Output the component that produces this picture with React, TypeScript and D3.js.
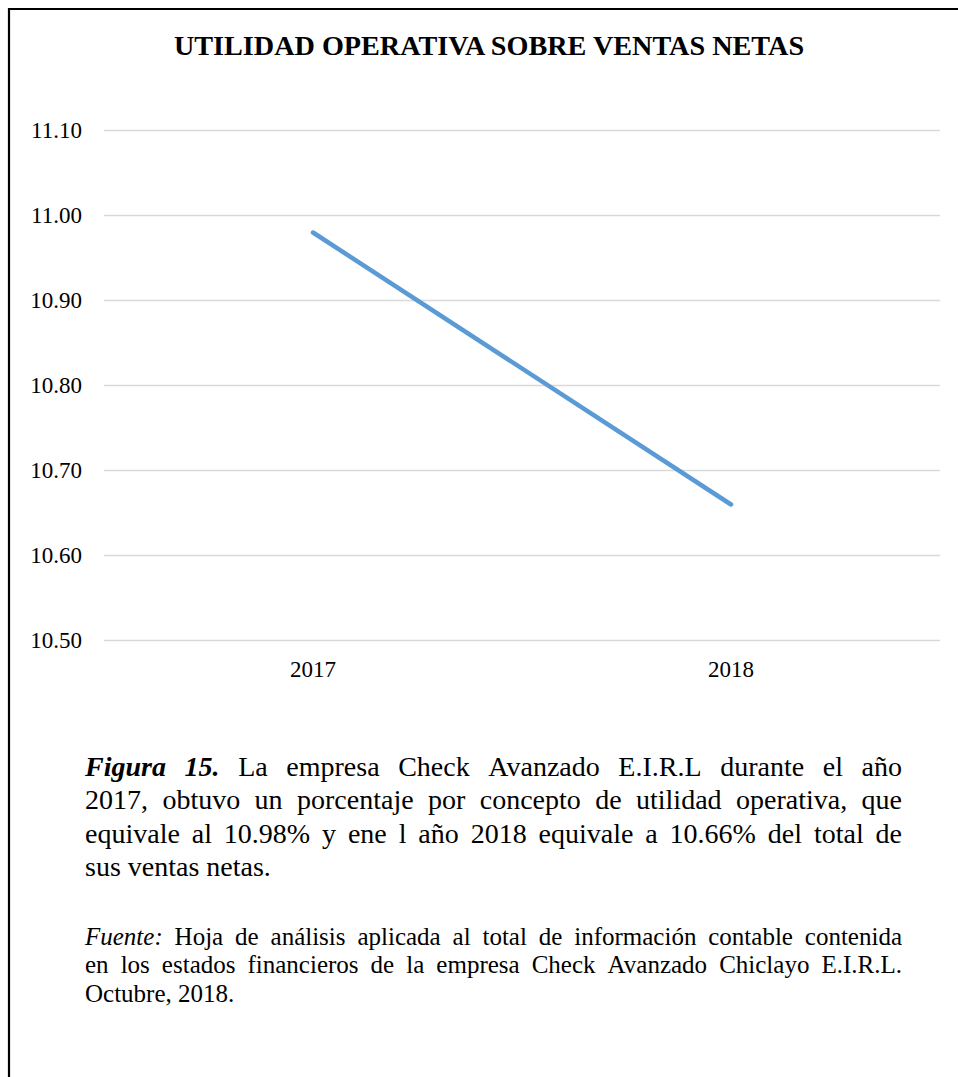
import React, { useMemo } from "react";
import * as d3 from "d3";

const categories = ["2017", "2018"];
const values = [10.98, 10.66];
const yTicks = [10.5, 10.6, 10.7, 10.8, 10.9, 11.0, 11.1];
const chartTitle = "UTILIDAD OPERATIVA SOBRE VENTAS NETAS";

type Word = { text: string; bold?: boolean; italic?: boolean };
type Line = { words: Word[]; justify: boolean };

const plain = (s: string): Word[] => s.split(" ").map((t) => ({ text: t }));

const captionLines: Line[] = [
  {
    justify: true,
    words: [
      { text: "Figura", bold: true, italic: true },
      { text: "15.", bold: true, italic: true },
      ...plain("La empresa Check Avanzado E.I.R.L durante el año"),
    ],
  },
  { justify: true, words: plain("2017, obtuvo un porcentaje por concepto de utilidad operativa, que") },
  { justify: true, words: plain("equivale al 10.98% y ene l año 2018 equivale a 10.66% del total de") },
  { justify: false, words: plain("sus ventas netas.") },
];

const sourceLines: Line[] = [
  {
    justify: true,
    words: [{ text: "Fuente:", italic: true }, ...plain("Hoja de análisis aplicada al total de información contable contenida")],
  },
  { justify: true, words: plain("en los estados financieros de la empresa Check Avanzado Chiclayo E.I.R.L.") },
  { justify: false, words: plain("Octubre, 2018.") },
];

const FONT = '"Liberation Serif", "Times New Roman", serif';

function layoutLine(line: Line, size: number, x0: number, width: number) {
  const canvas = document.createElement("canvas");
  const ctx = canvas.getContext("2d")!;
  const widths = line.words.map((w) => {
    ctx.font = `${w.italic ? "italic " : ""}${w.bold ? "bold " : ""}${size}px ${FONT}`;
    return ctx.measureText(w.text).width;
  });
  ctx.font = `${size}px ${FONT}`;
  const space = ctx.measureText(" ").width;
  const total = d3.sum(widths);
  const gap = line.justify && line.words.length > 1 ? (width - total) / (line.words.length - 1) : space;
  let x = x0;
  return line.words.map((w, i) => {
    const pos = { ...w, x };
    x += widths[i] + gap;
    return pos;
  });
}

export default function App() {
  const plotLeft = 104;
  const plotRight = 940;
  const yTop = 130.5;
  const yBottom = 640.5;
  const textLeft = 85;
  const textWidth = 817;

  const x = d3.scaleBand<string>().domain(categories).range([plotLeft, plotRight]);
  const y = d3.scaleLinear().domain([10.5, 11.1]).range([yBottom, yTop]);
  const line = d3
    .line<number>()
    .x((_, i) => (x(categories[i]) as number) + x.bandwidth() / 2)
    .y((d) => y(d));

  const caption = useMemo(() => captionLines.map((l) => layoutLine(l, 28, textLeft, textWidth)), []);
  const source = useMemo(() => sourceLines.map((l) => layoutLine(l, 25, textLeft, textWidth)), []);

  return (
    <svg
      width={958}
      height={1077}
      style={{ position: "absolute", left: 0, top: 0, background: "#fff" }}
      fontFamily={FONT}
    >
      <rect x={0} y={0} width={958} height={1077} fill="#fff" />
      <path d="M9,1080 L9,9 L960,9" fill="none" stroke="#000" strokeWidth={2.2} />

      <text x={489} y={55} textAnchor="middle" fontSize={28.2} fontWeight="bold" fill="#000">
        {chartTitle}
      </text>

      {yTicks.map((t) => (
        <g key={t}>
          <line x1={plotLeft} x2={plotRight} y1={y(t)} y2={y(t)} stroke="#d9d9d9" strokeWidth={1.5} />
          <text x={82} y={y(t) + 7.8} textAnchor="end" fontSize={23} fill="#000">
            {d3.format(".2f")(t)}
          </text>
        </g>
      ))}

      {categories.map((c) => (
        <text
          key={c}
          x={(x(c) as number) + x.bandwidth() / 2}
          y={677}
          textAnchor="middle"
          fontSize={23}
          fill="#000"
        >
          {c}
        </text>
      ))}

      <path
        d={line(values) || ""}
        fill="none"
        stroke="#5B9BD5"
        strokeWidth={4.5}
        strokeLinecap="round"
        strokeLinejoin="round"
      />

      {caption.map((ws, li) => (
        <text key={li} y={776 + li * 33.4} fontSize={28} fill="#000">
          {ws.map((w, wi) => (
            <tspan key={wi} x={w.x} fontWeight={w.bold ? "bold" : "normal"} fontStyle={w.italic ? "italic" : "normal"}>
              {w.text}
            </tspan>
          ))}
        </text>
      ))}

      {source.map((ws, li) => (
        <text key={li} y={944.5 + li * 28.7} fontSize={25} fill="#000">
          {ws.map((w, wi) => (
            <tspan key={wi} x={w.x} fontStyle={w.italic ? "italic" : "normal"}>
              {w.text}
            </tspan>
          ))}
        </text>
      ))}
    </svg>
  );
}
